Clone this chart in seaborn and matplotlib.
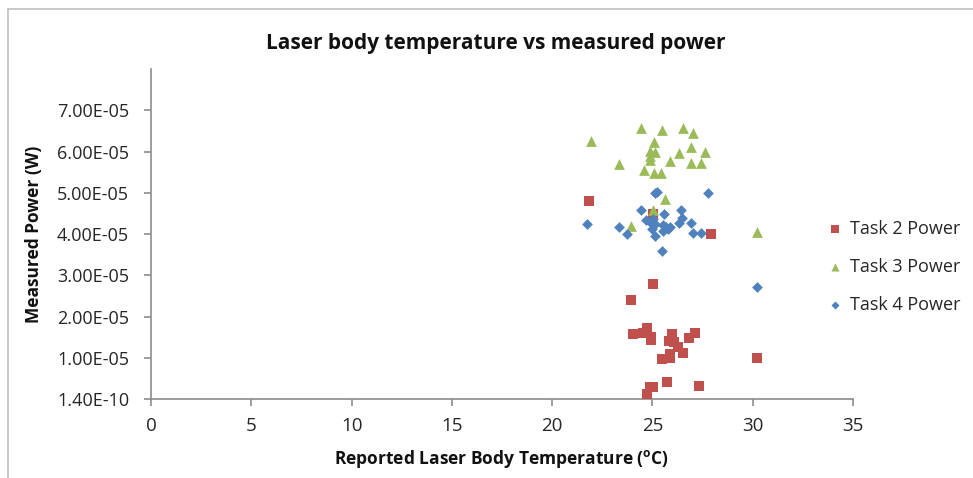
import matplotlib
matplotlib.use("Agg")
import matplotlib.pyplot as plt
from matplotlib.lines import Line2D
import seaborn as sns
import pandas as pd
import numpy as np

# ---- data (temperature in degC, power in units of 1e-5 W) ----
task2_temp = [21.82, 25.02, 27.92, 25.02, 23.91, 24.01, 24.54, 24.74, 24.91, 24.91,
              25.96, 25.84, 26.07, 26.29, 26.51, 26.84, 27.12, 25.50, 25.90, 25.90,
              30.21, 25.71, 27.33, 24.90, 25.02, 24.71]
task2_pow = [4.80, 4.49, 3.99, 2.79, 2.39, 1.57, 1.61, 1.71, 1.51, 1.43,
             1.57, 1.41, 1.39, 1.27, 1.11, 1.49, 1.60, 0.98, 1.00, 1.10,
             1.00, 0.41, 0.32, 0.29, 0.30, 0.11]

task3_temp = [21.92, 24.43, 25.50, 26.50, 27.00, 25.09, 24.88, 25.12, 24.90, 24.90,
              26.32, 26.90, 27.60, 23.31, 25.90, 26.90, 27.40, 24.60, 25.09, 25.42,
              25.62, 25.02, 23.91, 30.21]
task3_pow = [6.25, 6.58, 6.53, 6.56, 6.46, 6.24, 6.02, 6.00, 5.90, 5.80,
             5.97, 6.11, 5.99, 5.70, 5.78, 5.73, 5.73, 5.55, 5.47, 5.47,
             4.85, 4.59, 4.19, 4.06]

task4_temp = [25.12, 25.24, 27.78, 21.72, 23.33, 23.73, 24.43, 25.60, 26.41, 26.45,
              26.30, 26.91, 27.00, 27.40, 25.12, 25.50, 24.68, 24.88, 25.04, 25.12,
              24.96, 25.53, 25.66, 25.53, 25.79, 25.87, 30.21]
task4_pow = [4.99, 5.01, 5.00, 4.25, 4.17, 3.99, 4.59, 4.49, 4.59, 4.38,
             4.27, 4.26, 4.02, 4.02, 3.95, 3.58, 4.34, 4.29, 4.37, 4.25,
             4.12, 4.23, 4.16, 4.08, 4.12, 4.18, 2.71]

series_names = ["Task 2 Power", "Task 3 Power", "Task 4 Power"]
y_tick_labels = ["1.40E-10", "1.00E-05", "2.00E-05", "3.00E-05",
                 "4.00E-05", "5.00E-05", "6.00E-05", "7.00E-05"]
x_ticks = [0, 5, 10, 15, 20, 25, 30, 35]

frames = []
for name, t, p in zip(series_names,
                      [task2_temp, task3_temp, task4_temp],
                      [task2_pow, task3_pow, task4_pow]):
    frames.append(pd.DataFrame({"temp": t, "power": np.array(p) * 1e-5, "series": name}))
df = pd.concat(frames, ignore_index=True)

sns.set_style("white")
plt.rcParams["font.family"] = ["Open Sans", "DejaVu Sans"]

fig = plt.figure(figsize=(9.73, 4.78), dpi=100)
ax = fig.add_axes([151/973, 1 - 399/478, (853-151)/973, (399-69)/478])

palette = {"Task 2 Power": "#C0504D", "Task 3 Power": "#9BBB59", "Task 4 Power": "#4F81BD"}
markers = {"Task 2 Power": "s", "Task 3 Power": "^", "Task 4 Power": "D"}
sizes_map = {"Task 2 Power": 48, "Task 3 Power": 60, "Task 4 Power": 30}

for name in series_names:
    sub = df[df["series"] == name]
    sns.scatterplot(data=sub, x="temp", y="power", color=palette[name],
                    marker=markers[name], s=sizes_map[name], linewidth=0,
                    ax=ax, label=name, zorder=3)

ax.set_xlim(0, 35)
ax.set_ylim(1.4e-10, 8e-5)
ax.set_xticks(x_ticks)
ax.set_xticklabels([str(v) for v in x_ticks], fontsize=13.5, color="#262626")
ax.set_yticks([1.4e-10] + [k * 1e-5 for k in range(1, 8)])
ax.set_yticklabels(y_tick_labels, fontsize=13, color="#262626")

for side in ["top", "right"]:
    ax.spines[side].set_visible(False)
for side in ["left", "bottom"]:
    ax.spines[side].set_color("#8C8C8C")
    ax.spines[side].set_linewidth(1.2)
ax.tick_params(axis="y", which="major", direction="out", length=5,
               width=1.2, color="#8C8C8C", left=True, pad=10.8)
ax.tick_params(axis="x", which="major", direction="out", length=5,
               width=1.2, color="#8C8C8C", bottom=True, pad=8)

ax.set_xlabel("Reported Laser Body Temperature ($\\mathregular{^{o}}$C)",
              fontsize=12.5, fontweight="bold", labelpad=9, color="#111111")
ax.set_ylabel("Measured Power (W)", fontsize=12.5, fontweight="bold",
              labelpad=10, color="#111111")

fig.text(496/973, 1 - 43/478, "Laser body temperature vs measured power",
         ha="center", va="center", fontsize=15, fontweight="bold", color="#111111")

leg = ax.legend(loc="center left", bbox_to_anchor=(828/973, 1 - 267/478),
                bbox_transform=fig.transFigure, frameon=False,
                fontsize=13, handlelength=0.8, handletextpad=0.4,
                labelspacing=1.1, markerscale=0.75, borderaxespad=0.0,
                borderpad=0.0)

# outer chart frame (partially visible)
fig.add_artist(Line2D([8/973, 1.0], [1 - 9/478, 1 - 9/478], color="#BFBFBF", lw=1.2))
fig.add_artist(Line2D([8/973, 8/973], [1 - 9/478, 0.0], color="#BFBFBF", lw=1.2))

fig.savefig("out.png", dpi=100)
